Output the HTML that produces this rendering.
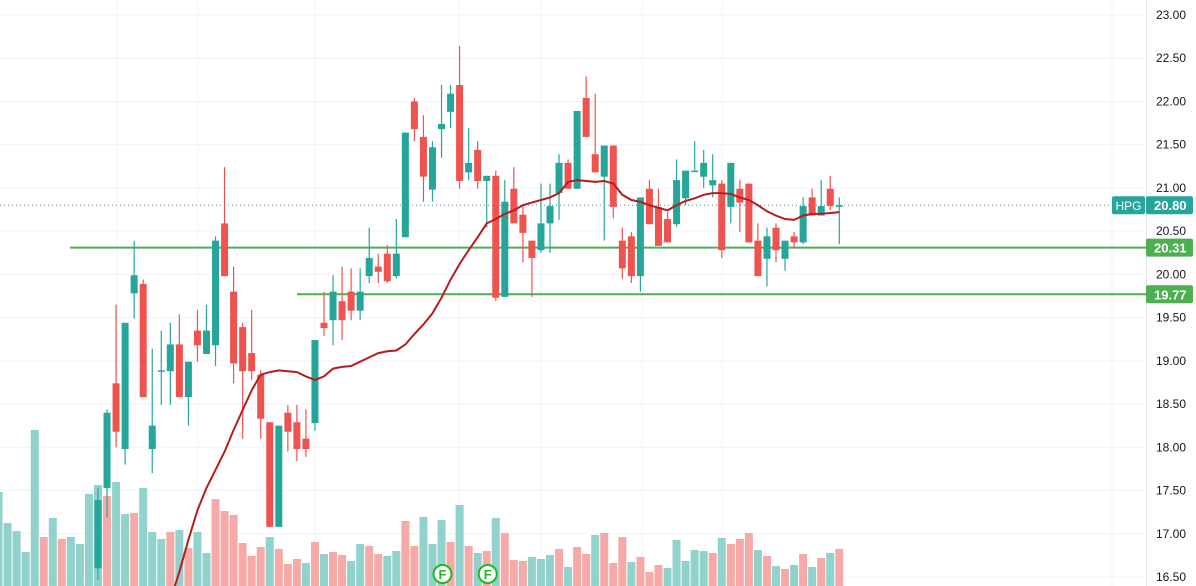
<!DOCTYPE html>
<html><head><meta charset="utf-8"><style>
html,body{margin:0;padding:0;background:#fff;}
svg{display:block;font-family:"Liberation Sans",sans-serif;}
</style></head><body>
<svg id="chart" width="1196" height="586" viewBox="0 0 1196 586">
<defs><clipPath id="plot"><rect x="0" y="0" width="1146" height="586"/></clipPath></defs>
<g id="grid"></g>
<g id="vol" clip-path="url(#plot)"></g>
<g id="levels"></g>
<g id="candles" clip-path="url(#plot)"></g>
<path id="ma" clip-path="url(#plot)" fill="none" stroke="#b71c1c" stroke-width="2"></path>
<g id="axis"></g>
<g id="marks"></g>
</svg>
<script>
const opens=[16.60,17.53,18.74,17.98,19.78,19.89,17.98,18.88,18.88,19.19,18.58,19.35,19.08,19.18,20.59,19.80,19.39,19.09,18.84,18.29,17.08,18.40,18.29,18.10,18.28,19.44,19.47,19.69,19.80,19.58,19.98,20.09,20.24,19.98,20.43,22.00,21.59,20.98,21.68,21.88,22.19,21.18,21.44,21.08,21.14,19.74,20.99,20.69,20.39,20.28,20.59,20.94,21.29,20.99,22.04,21.39,21.13,21.49,20.39,20.44,19.98,20.99,20.78,20.64,20.58,20.88,21.19,21.13,21.03,21.05,20.78,20.99,21.05,20.39,20.18,20.54,20.18,20.44,20.37,20.89,20.68,20.99,20.79];
const highs=[17.53,18.44,19.65,19.44,20.39,19.94,19.14,19.35,19.44,19.54,18.99,19.59,19.65,20.44,21.24,20.09,19.44,19.59,18.89,18.29,18.25,18.49,18.49,18.44,19.24,19.80,19.99,20.09,20.07,20.07,20.54,20.24,20.34,20.64,21.64,22.04,21.84,21.54,22.19,22.19,22.64,21.69,21.54,21.14,21.20,21.09,21.24,20.79,20.39,21.05,21.05,21.39,21.33,21.89,22.29,22.09,21.49,21.49,20.54,20.49,20.89,21.09,20.99,20.72,21.33,21.20,21.54,21.44,21.39,21.09,21.29,21.09,21.05,20.59,20.54,20.59,20.39,20.49,20.89,20.99,21.09,21.14,20.89];
const lows=[16.47,17.19,18.00,17.80,19.49,18.58,17.70,18.49,18.49,18.58,18.25,18.99,19.08,18.94,19.98,18.74,18.10,18.78,18.10,17.08,17.08,17.95,17.84,17.89,18.19,19.29,19.18,19.24,19.47,19.47,19.90,19.90,19.90,19.95,20.43,21.54,20.84,20.84,21.35,21.69,20.99,21.09,20.99,20.54,19.69,19.74,20.59,20.14,19.74,20.25,20.25,20.63,20.99,20.99,21.59,21.18,20.39,20.65,19.95,19.90,19.80,20.58,20.33,20.37,20.55,20.80,21.20,21.00,20.89,20.19,20.59,20.49,20.37,19.98,19.86,20.14,20.04,20.30,20.35,20.68,20.68,20.74,20.35];
const closes=[17.39,18.40,18.18,19.44,19.99,18.58,18.25,18.89,19.19,18.58,18.99,19.18,19.35,20.39,19.98,18.97,18.88,18.88,18.33,17.08,18.25,18.18,17.98,17.98,19.24,19.38,19.80,19.47,19.58,19.80,20.19,20.03,19.92,20.24,21.64,21.68,21.13,21.47,21.74,22.09,21.08,21.29,21.08,21.14,19.73,20.84,20.59,20.48,20.19,20.59,20.79,21.29,20.99,21.89,21.59,21.18,21.49,20.78,20.07,19.98,20.89,20.58,20.33,20.37,21.09,21.20,21.20,21.29,21.09,20.28,21.29,20.83,20.37,19.98,20.44,20.28,20.39,20.37,20.79,20.68,20.79,20.79,20.80];
const maValues=[null,null,null,null,null,null,null,null,16.23,16.56,16.93,17.27,17.53,17.74,17.95,18.20,18.43,18.66,18.84,18.87,18.89,18.88,18.87,18.82,18.78,18.82,18.91,18.93,18.94,18.99,19.04,19.09,19.11,19.12,19.19,19.31,19.42,19.55,19.73,19.94,20.12,20.28,20.43,20.59,20.64,20.70,20.74,20.80,20.83,20.86,20.89,20.94,21.07,21.09,21.08,21.07,21.08,21.05,20.92,20.86,20.84,20.80,20.77,20.74,20.80,20.85,20.88,20.92,20.94,20.94,20.93,20.89,20.86,20.80,20.73,20.68,20.64,20.63,20.68,20.70,20.70,20.71,20.72];
// volumes start 11 bars before the first visible candle
const volumes=[94,63,55,34,156,49,68,47,49,42,92,101,90,104,72,73,98,54,47,54,56,38,54,33,87,75,71,43,30,39,49,37,22,27,23,44,32,34,31,25,42,40,32,30,35,65,40,69,42,66,44,81,40,33,35,68,53,26,25,29,27,31,37,19,39,32,51,53,23,49,24,29,14,21,18,46,25,36,35,33,48,42,47,53,36,30,20,17,21,32,19,28,33,37];
const volDir="tttttrtrttttrttrtttrtrttrrrrrrtrrrtrtrrttrrttrrtttrtrtrtrrrtttrtrrtrrrtrrrtttttrtrrrtrtrtrtrt";
const tickLabels=["23.00","22.50","22.00","21.50","21.00","20.50","20.00","19.50","19.00","18.50","18.00","17.50","17.00","16.50"];
const levels=[{v:20.31,x0:70},{v:19.77,x0:297}];
const lastPrice=20.80;
const symbol="HPG";
const eventIdx=[38,43];

const NS="http://www.w3.org/2000/svg";
const yv=v=>15+(23-v)*86.46;
const xi=i=>98+i*9.04;
const AX=1146;
function el(tag,attrs,parent){const e=document.createElementNS(NS,tag);for(const k in attrs)e.setAttribute(k,attrs[k]);parent.appendChild(e);return e;}
const G=id=>document.getElementById(id);

// grid
[117,198,315,459,541,642,722,1112].forEach(x=>{const l=el('line',{x1:x,x2:x,y1:0,y2:586,stroke:'#f0f3fa','stroke-width':1},G('grid'));

});
tickLabels.forEach(t=>{const y=yv(parseFloat(t));const l=el('line',{x1:0,x2:AX,y1:y,y2:y,stroke:'#f0f3fa','stroke-width':1},G('grid'));


const tx=el('text',{x:1156,y:y+4,'font-size':12,fill:'#131722'},G('axis'));tx.textContent=t;

});
const ab=el('line',{x1:AX+0.5,x2:AX+0.5,y1:0,y2:586,stroke:'#e0e3eb'},G('axis'));



// volume
volumes.forEach((v,k)=>{const i=k-11;const r=el('rect',{x:xi(i)-4,y:586-v,width:8,height:v,fill:volDir[k]==='t'?'#92d2cc':'#f7a9a7'},G('vol'));

});

// levels
levels.forEach(L=>{const y=yv(L.v);const l=el('line',{x1:L.x0,x2:AX,y1:y,y2:y,stroke:'#4caf50','stroke-width':2},G('levels'));

});
// last price line
const lp=el('line',{x1:0,x2:AX,y1:yv(lastPrice),y2:yv(lastPrice),stroke:'#26a69a','stroke-width':1,'stroke-dasharray':'1 3'},G('levels'));



// candles
opens.forEach((o,i)=>{const c=closes[i],up=c>=o,col=up?'#26a69a':'#ef5350',x=xi(i);
const g=el('g',{},G('candles'));


el('line',{x1:x,x2:x,y1:yv(highs[i]),y2:yv(lows[i]),stroke:col,'stroke-width':1.2},g);
const top=yv(Math.max(o,c)),h=Math.max(1.5,yv(Math.min(o,c))-top);
el('rect',{x:x-3.5,y:top,width:7,height:h,fill:col},g);});

// MA
let d='';maValues.forEach((v,i)=>{if(v==null)return;d+=(d?'L':'M')+xi(i).toFixed(1)+','+yv(v).toFixed(1);});
G('ma').setAttribute('d',d);

// axis labels for levels and last price
function tag(v,bg,txt){const y=yv(v);const r=el('rect',{x:AX,y:y-9,width:47,height:18,rx:2,fill:bg},G('axis'));


const t=el('text',{x:AX+8,y:y+5,'font-size':13,'font-weight':'bold',fill:'#fff'},G('axis'));t.textContent=txt;

}
levels.forEach(L=>tag(L.v,'#4caf50',L.v.toFixed(2)));
tag(lastPrice,'#26a69a',lastPrice.toFixed(2));
const sy=yv(lastPrice);
const sb=el('rect',{x:1112,y:sy-9,width:33,height:18,rx:2,fill:'#26a69a'},G('axis'));


const st=el('text',{x:1128.5,y:sy+5,'font-size':12,'text-anchor':'middle',fill:'#fff'},G('axis'));st.textContent=symbol;



// event markers
eventIdx.forEach(i=>{const x=xi(i)+1;const g=el('g',{},G('marks'));


el('circle',{cx:x,cy:574,r:9,fill:'#fff',stroke:'#22b822','stroke-width':2},g);
const t=el('text',{x:x,y:579,'font-size':13,'font-weight':'bold','text-anchor':'middle',fill:'#22b822'},g);t.textContent='F';});
</script>
</body></html>
